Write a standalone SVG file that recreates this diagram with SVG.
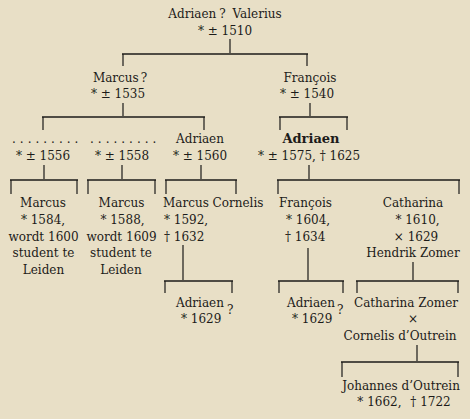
<svg xmlns="http://www.w3.org/2000/svg" width="470" height="419" viewBox="0 0 470 419">
<style>
text{font-family:"DejaVu Serif","Liberation Serif",serif;font-size:12px;fill:#1c1b19}
.m{text-anchor:middle}
.b{font-weight:bold;font-size:13px}
.dots{letter-spacing:4px}
.bar{stroke:#1c1b19;stroke-width:1.7;fill:none}
.v{stroke:#1c1b19;stroke-width:1.2;fill:none}
</style>
<rect width="470" height="419" fill="#e8dfc6"/>
<g id="connectors">
<path class="v" d="M230,39V53M123,54V66M307,54V66"/>
<path class="bar" d="M122,54H308"/>
<path class="v" d="M123,103V116M43,117V130M204,117V130"/>
<path class="bar" d="M42,117H205"/>
<path class="v" d="M310,103V116M280,117V130M347,117V130"/>
<path class="bar" d="M279,117H348"/>
<path class="v" d="M44,165V179M11,180V194M77,180V194"/>
<path class="bar" d="M10,180H78"/>
<path class="v" d="M122,165V179M88,180V194M155,180V194"/>
<path class="bar" d="M87,180H156"/>
<path class="v" d="M201,165V179M166,180V194M236,180V194"/>
<path class="bar" d="M165,180H237"/>
<path class="v" d="M309,165V179M278,180V194M459,180V194"/>
<path class="bar" d="M277,180H460"/>
<path class="v" d="M183,245V280M165,281V293M232,281V293"/>
<path class="bar" d="M164,281H233"/>
<path class="v" d="M308,248V280M279,281V293M343,281V293"/>
<path class="bar" d="M278,281H344"/>
<path class="v" d="M413,262V280M357,281V293M458,281V293"/>
<path class="bar" d="M356,281H459"/>
<path class="v" d="M417,345V361M342,362V377M458,362V377"/>
<path class="bar" d="M341,362H459"/>
</g>
<g id="n-adriaen-valerius">
<text class="m" x="225" y="18">Adriaen<tspan dx="3">?</tspan><tspan dx="3"> Valerius</tspan></text>
<text class="m" x="225" y="35">* ± 1510</text>
</g>
<g id="n-marcus">
<text class="m" x="120" y="82">Marcus<tspan dx="2">?</tspan></text>
<text class="m" x="118" y="98">* ± 1535</text>
</g>
<g id="n-francois">
<text class="m" x="310" y="82">François</text>
<text class="m" x="307" y="98">* ± 1540</text>
</g>
<g id="n-unknown-1556">
<text class="dots" x="12" y="143">.........</text>
<text class="m" x="43" y="160">* ± 1556</text>
</g>
<g id="n-unknown-1558">
<text class="dots" x="90" y="143">.........</text>
<text class="m" x="122" y="160">* ± 1558</text>
</g>
<g id="n-adriaen-1560">
<text class="m" x="200" y="143">Adriaen</text>
<text class="m" x="200" y="160">* ± 1560</text>
</g>
<g id="n-adriaen-1575">
<text class="m b" x="311" y="143">Adriaen</text>
<text class="m" x="309" y="160">* ± 1575, † 1625</text>
</g>
<g id="n-marcus-1584">
<text class="m" x="43" y="207">Marcus</text>
<text class="m" x="43" y="224">* 1584,</text>
<text class="m" x="43.5" y="241">wordt 1600</text>
<text class="m" x="43.5" y="257">student te</text>
<text class="m" x="43.5" y="274">Leiden</text>
</g>
<g id="n-marcus-1588">
<text class="m" x="121.5" y="207">Marcus</text>
<text class="m" x="122.5" y="224">* 1588,</text>
<text class="m" x="121.5" y="241">wordt 1609</text>
<text class="m" x="121" y="257">student te</text>
<text class="m" x="121" y="274">Leiden</text>
</g>
<g id="n-marcus-cornelis">
<text x="163" y="207">Marcus Cornelis</text>
<text x="164" y="224">* 1592,</text>
<text x="164" y="241">† 1632</text>
</g>
<g id="n-francois-1604">
<text x="279" y="207">François</text>
<text x="286" y="224">* 1604,</text>
<text x="285" y="241">† 1634</text>
</g>
<g id="n-catharina">
<text class="m" x="413" y="207">Catharina</text>
<text class="m" x="417.5" y="224">* 1610,</text>
<text class="m" x="416" y="241">× 1629</text>
<text class="m" x="413" y="257">Hendrik Zomer</text>
</g>
<g id="n-adriaen-1629a">
<text x="176" y="307">Adriaen</text>
<text x="227" y="314">?</text>
<text x="181" y="323">* 1629</text>
</g>
<g id="n-adriaen-1629b">
<text x="287" y="307">Adriaen</text>
<text x="337" y="314">?</text>
<text x="292" y="323">* 1629</text>
</g>
<g id="n-catharina-zomer">
<text class="m" x="406" y="307">Catharina Zomer</text>
<text class="m" x="413" y="323">×</text>
<text class="m" x="400" y="340">Cornelis d’Outrein</text>
</g>
<g id="n-johannes">
<text class="m" x="401" y="390">Johannes d’Outrein</text>
<text class="m" x="404" y="406">* 1662,<tspan dx="5"> † 1722</tspan></text>
</g>
</svg>
